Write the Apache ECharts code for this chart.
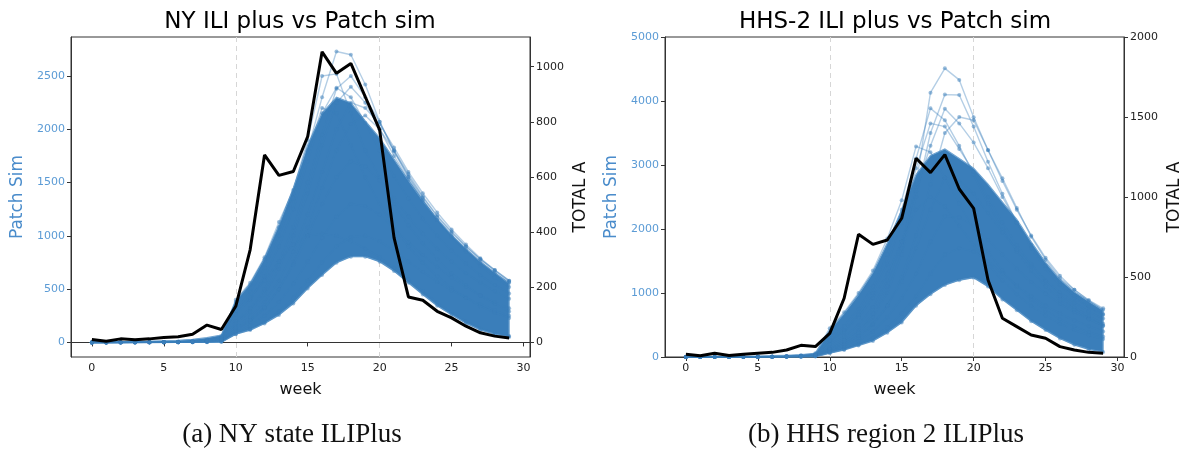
<!DOCTYPE html>
<html><head><meta charset="utf-8">
<script src="https://cdn.jsdelivr.net/npm/echarts@6/dist/echarts.min.js"></script>
<style>html,body{margin:0;padding:0;background:#fff}#c{width:1189px;height:450px}</style>
</head><body><div id="c"></div>
<script>
// ---------- data ----------
const weeks = [0,1,2,3,4,5,6,7,8,9,10,11,12,13,14,15,16,17,18,19,20,21,22,23,24,25,26,27,28,29];
const xTicks = [0,5,10,15,20,25,30];
const nyLeftTicks = [0,500,1000,1500,2000,2500];
const nyRightTicks = [0,200,400,600,800,1000];
const vLines = [10,20];

// observed (TOTAL A, right axis)
const nyObserved  = [11,4,13,10,13,18,21,30,63,47,131,336,680,606,620,747,1054,976,1012,891,771,380,165,153,113,89,59,35,23,16];
const hhsObserved = [17,8,23,10,17,23,29,44,73,65,148,367,767,704,731,867,1242,1152,1265,1050,929,481,242,190,137,117,65,44,29,23];

// Patch sim ensemble: dense core (lower / upper edge) and visible trajectories
const nyLower = [0,0,0,0,0,0,0,0,0,0,78,116,178,257,366,507,632,748,805,805,758,670,560,450,345,260,180,118,78,50];
const nyDense = [8,5,8,8,12,16,20,30,45,70,390,550,790,1100,1450,1850,2150,2300,2250,2080,1920,1720,1520,1330,1160,1010,880,760,655,555];
const nySim1  = [0,0,1,1,2,3,5,9,16,35,300,470,700,1000,1350,1800,2300,2730,2700,2420,2070,1790,1550,1340,1150,990,850,720,610,520];
const nySim2  = [0,1,1,2,3,4,7,12,22,50,400,560,800,1130,1430,1900,2500,2520,2150,1800,1550,1300,1100,930,780,650,540,440,360,290];
const nySim3  = [0,0,0,1,1,2,3,6,10,20,200,320,500,760,1080,1500,1950,2380,2500,2300,2070,1800,1560,1360,1180,1030,900,780,680,580];
const nySim4  = [0,0,1,1,2,3,4,8,14,30,260,400,620,900,1250,1700,2150,2390,2300,2060,1800,1560,1350,1160,1000,860,740,630,540,460];
const nySim5  = [0,0,0,1,1,2,3,5,9,18,150,240,380,580,850,1200,1600,2000,2250,2200,2050,1830,1600,1400,1220,1060,920,790,680,580];
const nySim6  = [0,0,0,0,1,1,2,4,7,14,120,200,320,500,750,1080,1450,1800,2050,2130,2000,1800,1580,1370,1190,1040,900,780,670,570];
const nySim7  = [0,1,2,2,3,5,8,14,25,60,380,540,780,1080,1400,1780,2200,2150,1850,1550,1300,1080,900,750,620,510,420,340,280,230];
const nySim8  = [0,0,0,1,1,2,3,5,8,16,130,210,330,500,730,1000,1300,1550,1700,1650,1520,1350,1180,1020,880,760,650,560,480,410];
const nySim9  = [0,0,0,0,1,1,2,3,6,12,100,160,250,380,550,760,980,1180,1300,1280,1200,1070,940,820,710,610,520,440,380,320];
const nySim10 = [0,0,0,0,0,1,1,2,4,8,80,125,190,290,420,580,750,900,990,1000,950,860,760,660,570,490,420,360,300,250];
const nySim11 = [0,0,1,1,2,3,5,9,16,35,300,420,580,760,920,1000,1020,1000,950,880,800,700,590,480,375,285,200,135,90,60];
const nySim12 = [0,0,0,0,0,0,1,1,2,5,78,116,178,257,366,507,632,748,805,805,758,670,560,450,345,260,180,118,78,50];
const nySim13 = [0,0,0,1,1,2,3,6,11,22,180,290,450,690,1000,1400,1850,2250,2400,2250,2000,1750,1530,1330,1150,1000,870,750,650,560];

const hhsLower = [0,0,0,0,0,0,0,0,0,0,60,110,180,250,380,540,800,980,1125,1200,1240,1100,900,730,560,420,290,190,120,80];
const hhsDense = [10,6,10,10,12,16,20,26,36,55,420,680,980,1320,1780,2300,2850,3150,3250,3100,2950,2700,2420,2150,1800,1480,1210,1020,870,730];
const hhsSim1  = [0,0,1,1,2,3,5,9,16,35,150,260,420,680,1100,1700,2700,4130,4510,4330,3745,3234,2792,2330,1880,1520,1230,1050,890,760];
const hhsSim2  = [0,0,0,1,1,2,4,7,12,28,130,230,380,620,1000,1600,2500,3500,4100,4094,3600,3050,2550,2100,1700,1380,1120,930,780,660];
const hhsSim3  = [0,1,1,2,3,4,7,12,22,50,300,480,750,1100,1600,2300,3100,3885,3700,3300,2850,2400,2000,1650,1350,1100,900,740,600,490];
const hhsSim4  = [0,0,0,0,1,1,2,4,8,18,100,180,300,500,800,1250,1900,2700,3500,3750,3700,3230,2750,2300,1900,1550,1270,1050,880,740];
const hhsSim5  = [0,1,2,3,4,6,9,15,28,60,450,700,1000,1350,1850,2450,3290,3200,2800,2400,2000,1650,1350,1100,900,730,590,480,390,320];
const hhsSim6  = [0,0,0,1,1,2,3,6,10,22,120,200,330,520,800,1180,1700,2300,2800,2750,2550,2250,1950,1680,1420,1200,1010,850,710,600];
const hhsSim7  = [0,0,0,0,1,1,2,4,7,15,90,150,250,400,620,920,1300,1800,2200,2180,2050,1830,1600,1380,1170,990,830,700,590,490];
const hhsSim8  = [0,0,0,0,0,1,1,3,5,11,70,120,190,300,460,680,950,1300,1600,1700,1650,1500,1300,1120,950,800,680,570,480,400];
const hhsSim9  = [0,0,0,0,0,0,1,2,4,8,60,110,180,250,380,540,800,980,1125,1200,1240,1100,900,730,560,420,290,190,120,80];
const hhsSim10 = [0,0,1,1,2,3,5,9,16,35,250,400,620,920,1300,1800,2300,2500,2350,2050,1750,1450,1200,980,800,650,520,420,340,280];
const hhsSim11 = [0,0,0,1,1,2,3,6,11,24,200,320,500,780,1200,1800,2600,3300,3880,3650,3350,2950,2500,2100,1750,1430,1170,960,800,670];
const hhsSim12 = [0,0,1,1,2,3,5,9,16,36,260,420,660,1000,1450,2100,2950,3650,3600,3250,2900,2500,2100,1750,1450,1180,960,780,640,520];

const nySims  = [nySim1,nySim2,nySim3,nySim4,nySim5,nySim6,nySim7,nySim8,nySim9,nySim10,nySim11,nySim12,nySim13];
const hhsSims = [hhsSim1,hhsSim2,hhsSim3,hhsSim4,hhsSim5,hhsSim6,hhsSim7,hhsSim8,hhsSim9,hhsSim10,hhsSim11,hhsSim12];

// ---------- styling ----------
const BLUE = '#3a7eba';
const TICKBLUE = '#5b9bd5';
const FONT = 'DejaVu Sans';
const pairs = arr => weeks.map((w, i) => [w, arr[i]]);
const plain = v => String(v);

function xAxisCfg(gi) {
  return {
    gridIndex: gi, type: 'value', min: -1.45, max: 30.45,
    name: 'week', nameLocation: 'middle', nameGap: 25,
    nameTextStyle: {fontFamily: FONT, fontSize: 16, color: '#111'},
    axisLine: {show: true, lineStyle: {color: '#333', width: 1}},
    axisTick: {show: true, length: 4, lineStyle: {color: '#333'}, customValues: xTicks},
    axisLabel: {fontFamily: FONT, fontSize: 11, color: '#222', margin: 6, customValues: xTicks, formatter: plain},
    splitLine: {show: false}
  };
}
function yAxisCfg(gi, pos, min, max, ticks, name, labelColor, nameColor, gap) {
  const tick = {show: true, length: 4, lineStyle: {color: '#333'}};
  const lab = {fontFamily: FONT, fontSize: 11, color: labelColor, margin: 6, formatter: plain};
  if (ticks) { tick.customValues = ticks; lab.customValues = ticks; }
  return {
    gridIndex: gi, type: 'value', position: pos, min: min, max: max,
    name: name, nameLocation: 'middle', nameGap: gap, nameRotate: 90,
    nameTextStyle: {fontFamily: FONT, fontSize: 17, color: nameColor},
    axisLine: {show: true, onZero: false, lineStyle: {color: '#333', width: 1}},
    axisTick: tick, axisLabel: lab,
    splitLine: {show: false}
  };
}

const series = [];
function addPanel(xi, yl, yr, lower, dense, sims, obs) {
  // dashed reference lines (behind everything)
  series.push({
    type: 'line', xAxisIndex: xi, yAxisIndex: yl, data: pairs(lower),
    symbol: 'none', lineStyle: {width: 0, opacity: 0}, silent: true, z: 1,
    markLine: {
      silent: true, z: 1, symbol: ['none','none'], label: {show: false},
      lineStyle: {color: '#d6d6d6', type: [5,4], width: 1},
      data: vLines.map(v => ({xAxis: v}))
    }
  });
  // dense core of the ensemble, as a polygon between the lower and upper edges
  series.push({
    type: 'custom', xAxisIndex: xi, yAxisIndex: yl, coordinateSystem: 'cartesian2d',
    data: [[0, 0]], silent: true, z: 3,
    renderItem: (params, api) => {
      const pts = [];
      weeks.forEach((w, i) => pts.push(api.coord([w, dense[i]])));
      for (let i = weeks.length - 1; i >= 0; i--) pts.push(api.coord([weeks[i], lower[i]]));
      return {type: 'polygon', shape: {points: pts},
              style: {fill: BLUE, opacity: 1, stroke: '#6fa3d0', lineWidth: 1.2}};
    }
  });
  sims.forEach(s => series.push({
    type: 'line', xAxisIndex: xi, yAxisIndex: yl, data: pairs(s),
    symbol: 'circle', symbolSize: 4, showSymbol: true,
    lineStyle: {width: 1.4, color: BLUE, opacity: 0.38},
    itemStyle: {color: BLUE, opacity: 0.5, borderWidth: 0}, silent: true, z: 4
  }));
  series.push({
    type: 'line', xAxisIndex: xi, yAxisIndex: yr, data: pairs(obs),
    symbol: 'none', lineStyle: {width: 3, color: '#000'}, silent: true, z: 6
  });
}
addPanel(0, 0, 1, nyLower, nyDense, nySims, nyObserved);
addPanel(1, 2, 3, hhsLower, hhsDense, hhsSims, hhsObserved);

const chart = echarts.init(document.getElementById('c'), null, {renderer: 'canvas'});
chart.setOption({
  animation: false,
  backgroundColor: '#fff',
  grid: [
    {left: 71, top: 37, width: 459, height: 320, show: true, borderColor: '#333', borderWidth: 1, backgroundColor: 'transparent'},
    {left: 665, top: 37, width: 459, height: 320, show: true, borderColor: '#333', borderWidth: 1, backgroundColor: 'transparent'}
  ],
  xAxis: [xAxisCfg(0), xAxisCfg(1)],
  yAxis: [
    yAxisCfg(0, 'left', -136.5, 2866, nyLeftTicks, 'Patch Sim', TICKBLUE, '#4a8ccb', 45),
    yAxisCfg(0, 'right', -52.75, 1107.75, nyRightTicks, 'TOTAL A', '#222', '#111', 42),
    Object.assign(yAxisCfg(1, 'left', 0, 5000, null, 'Patch Sim', TICKBLUE, '#4a8ccb', 45), {interval: 1000}),
    Object.assign(yAxisCfg(1, 'right', 0, 2000, null, 'TOTAL A', '#222', '#111', 42), {interval: 500})
  ],
  graphic: [
    {type: 'text', x: 300, y: 22, style: {text: 'NY ILI plus vs Patch sim', font: '23px "DejaVu Sans"', fill: '#000', textAlign: 'center', textVerticalAlign: 'middle'}},
    {type: 'text', x: 895, y: 22, style: {text: 'HHS-2 ILI plus vs Patch sim', font: '23px "DejaVu Sans"', fill: '#000', textAlign: 'center', textVerticalAlign: 'middle'}},
    {type: 'text', x: 292, y: 435, style: {text: '(a) NY state ILIPlus', font: '27px "Liberation Serif"', fill: '#111', textAlign: 'center', textVerticalAlign: 'middle'}},
    {type: 'text', x: 886, y: 435, style: {text: '(b) HHS region 2 ILIPlus', font: '27px "Liberation Serif"', fill: '#111', textAlign: 'center', textVerticalAlign: 'middle'}}
  ],
  series: series
});
</script></body></html>
